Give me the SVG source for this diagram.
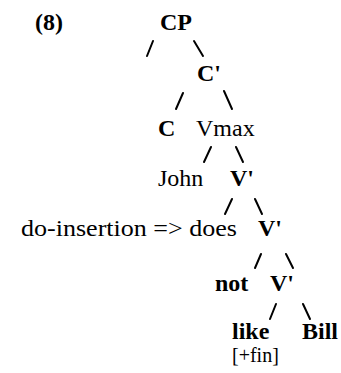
<svg xmlns="http://www.w3.org/2000/svg" width="341" height="373" viewBox="0 0 341 373">
<style>
text{font-family:'Liberation Serif','Times New Roman',serif;font-size:24px;fill:#000}
.b{font-weight:bold}
.s{font-size:20px}
.conn line{stroke:#000;stroke-width:2;stroke-linecap:round}
</style>
<rect width="341" height="373" fill="#fff"/>
<g font-family="'Liberation Serif', 'Times New Roman', serif">
<g id="label"><text class="b" x="35" y="30">(8)</text></g>
<g id="n-CP"><text class="b" x="160" y="30">CP</text></g>
<g id="n-Cbar"><text class="b" x="197" y="81">C'</text></g>
<g id="n-C"><text class="b" x="158" y="136">C</text></g>
<g id="n-Vmax"><text x="196" y="136">Vmax</text></g>
<g id="n-John"><text x="158" y="186">John</text></g>
<g id="n-V1"><text class="b" x="230" y="186">V'</text></g>
<g id="n-does"><text x="21" y="236" textLength="216" lengthAdjust="spacingAndGlyphs">do-insertion =&gt; does</text></g>
<g id="n-V2"><text class="b" x="258" y="236">V'</text></g>
<g id="n-not"><text class="b" x="215" y="291">not</text></g>
<g id="n-V3"><text class="b" x="270" y="291">V'</text></g>
<g id="n-like"><text class="b" x="232" y="339">like</text><text class="s" x="232" y="362">[+fin]</text></g>
<g id="n-Bill"><text class="b" x="302" y="339">Bill</text></g>
</g>
<g id="connectors" class="conn">
<line x1="153" y1="41" x2="147" y2="56"/>
<line x1="194" y1="41" x2="203" y2="56"/>
<line x1="183" y1="93" x2="176" y2="109"/>
<line x1="224" y1="91" x2="232" y2="109"/>
<line x1="211" y1="147" x2="204" y2="162"/>
<line x1="236" y1="147" x2="243" y2="162"/>
<line x1="232" y1="199" x2="225" y2="214"/>
<line x1="255" y1="199" x2="262" y2="214"/>
<line x1="261" y1="254" x2="255" y2="268"/>
<line x1="286" y1="254" x2="293" y2="268"/>
<line x1="276" y1="304" x2="270" y2="319"/>
<line x1="303" y1="304" x2="310" y2="319"/>
</g>
</svg>
